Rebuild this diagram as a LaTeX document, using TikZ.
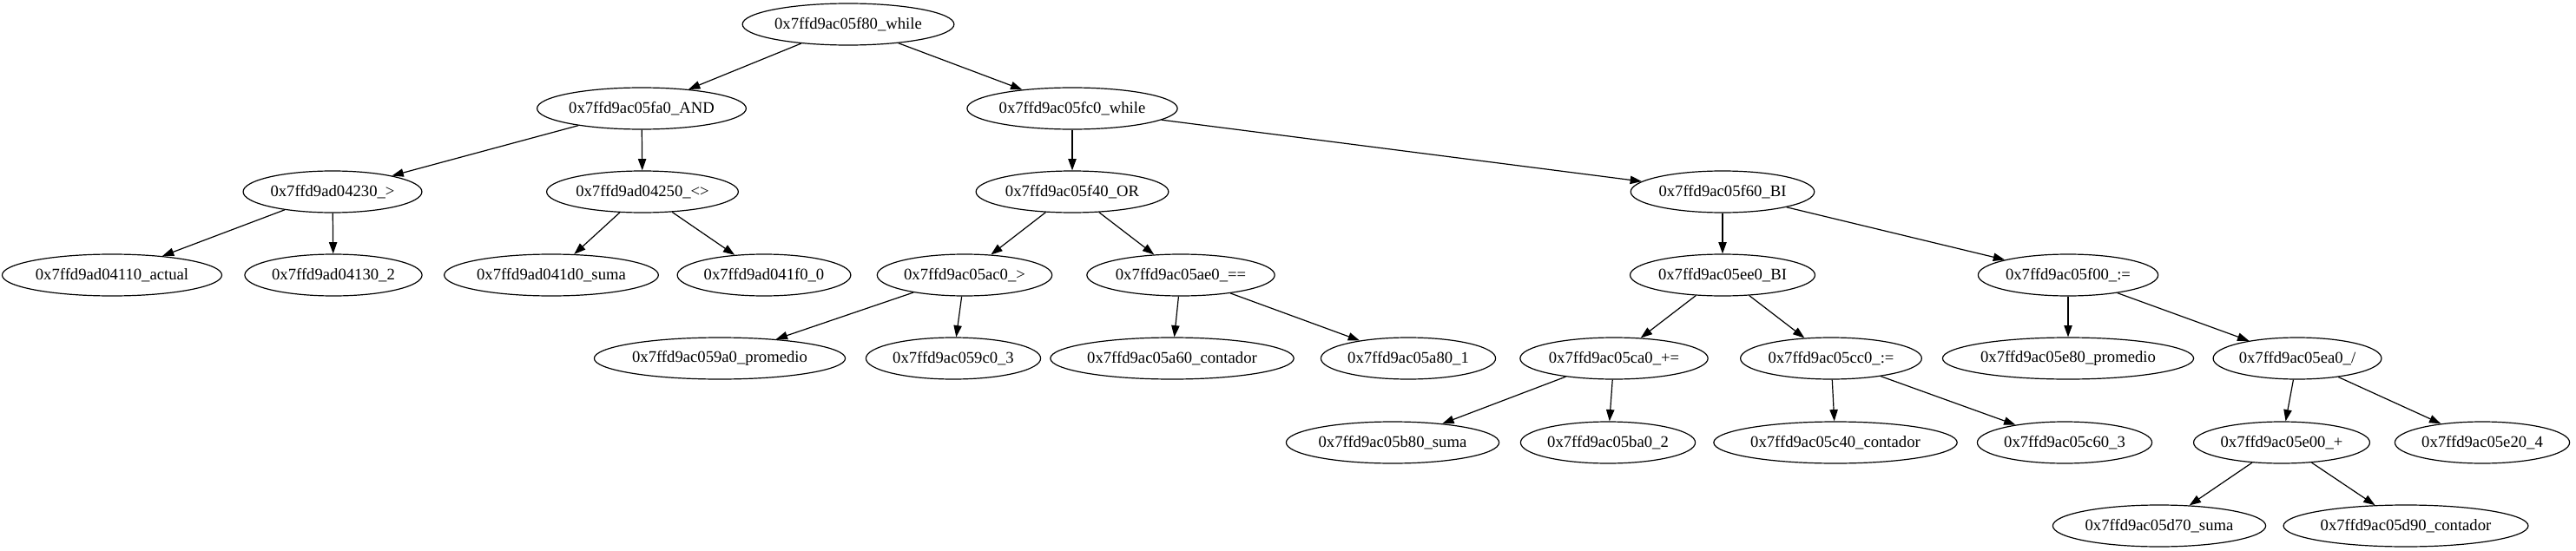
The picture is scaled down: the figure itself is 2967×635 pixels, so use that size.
\documentclass[tikz,border=0pt]{standalone}
\usepackage{fontspec}
\setmainfont{Liberation Serif}
\usetikzlibrary{arrows.meta,shapes.geometric}
\tikzset{font=\fontsize{14}{16}\selectfont}
\tikzset{ast/.style={ellipse,draw,line width=0.9pt,minimum height=36pt,inner xsep=1pt,inner ysep=0pt}}
\tikzset{edge/.style={line width=0.9pt,-{Triangle[length=10pt,width=7pt]}}}

\begin{document}
\begin{tikzpicture}[x=0.75pt,y=-0.75pt]
  \useasboundingbox (0,0) rectangle (2967,635);
  % level 0 and 1
  \node[ast] (f80) at (977,28) {0x7ffd9ac05f80\_while};
  \node[ast] (fa0) at (739,125) {0x7ffd9ac05fa0\_AND};
  \node[ast] (fc0) at (1235,125) {0x7ffd9ac05fc0\_while};
  % level 2
  \node[ast] (d04230) at (383,221) {0x7ffd9ad04230\_>};
  \node[ast] (d04250) at (740,221) {0x7ffd9ad04250\_<>};
  \node[ast] (f40) at (1235,221) {0x7ffd9ac05f40\_OR};
  \node[ast] (f60) at (1984,221) {0x7ffd9ac05f60\_BI};
  % level 3
  \node[ast] (d04110) at (129,317) {0x7ffd9ad04110\_actual};
  \node[ast] (d04130) at (384,317) {0x7ffd9ad04130\_2};
  \node[ast] (d041d0) at (635,317) {0x7ffd9ad041d0\_suma};
  \node[ast] (d041f0) at (880,317) {0x7ffd9ad041f0\_0};
  \node[ast] (ac0) at (1111,317) {0x7ffd9ac05ac0\_>};
  \node[ast] (ae0) at (1360,317) {0x7ffd9ac05ae0\_==};
  \node[ast] (ee0) at (1984,317) {0x7ffd9ac05ee0\_BI};
  \node[ast] (f00) at (2382,317) {0x7ffd9ac05f00\_:=};
  % level 4
  \node[ast] (9a0) at (829,413) {0x7ffd9ac059a0\_promedio};
  \node[ast] (9c0) at (1098,413) {0x7ffd9ac059c0\_3};
  \node[ast] (a60) at (1350,413) {0x7ffd9ac05a60\_contador};
  \node[ast] (a80) at (1622,413) {0x7ffd9ac05a80\_1};
  \node[ast] (ca0) at (1859,413) {0x7ffd9ac05ca0\_+=};
  \node[ast] (cc0) at (2109,413) {0x7ffd9ac05cc0\_:=};
  \node[ast] (e80) at (2382,413) {0x7ffd9ac05e80\_promedio};
  \node[ast] (ea0) at (2646,413) {0x7ffd9ac05ea0\_/};
  % level 5
  \node[ast] (b80) at (1604,510) {0x7ffd9ac05b80\_suma};
  \node[ast] (ba0) at (1852,510) {0x7ffd9ac05ba0\_2};
  \node[ast] (c40) at (2114,510) {0x7ffd9ac05c40\_contador};
  \node[ast] (c60) at (2378,510) {0x7ffd9ac05c60\_3};
  \node[ast] (e00) at (2628,510) {0x7ffd9ac05e00\_+};
  \node[ast] (e20) at (2859,510) {0x7ffd9ac05e20\_4};
  % level 6
  \node[ast] (d70) at (2487,606) {0x7ffd9ac05d70\_suma};
  \node[ast] (d90) at (2771,606) {0x7ffd9ac05d90\_contador};
  \foreach \p/\c in {f80/fa0, f80/fc0, fa0/d04230, fa0/d04250,
                     d04230/d04110, d04230/d04130, d04250/d041d0, d04250/d041f0,
                     fc0/f40, fc0/f60, f40/ac0, f40/ae0, ac0/9a0, ac0/9c0,
                     ae0/a60, ae0/a80, f60/ee0, f60/f00, ee0/ca0, ee0/cc0,
                     ca0/b80, ca0/ba0, cc0/c40, cc0/c60, f00/e80, f00/ea0,
                     ea0/e00, ea0/e20, e00/d70, e00/d90}{
    \draw[edge] (\p) -- (\c);
  };
\end{tikzpicture}
\end{document}
